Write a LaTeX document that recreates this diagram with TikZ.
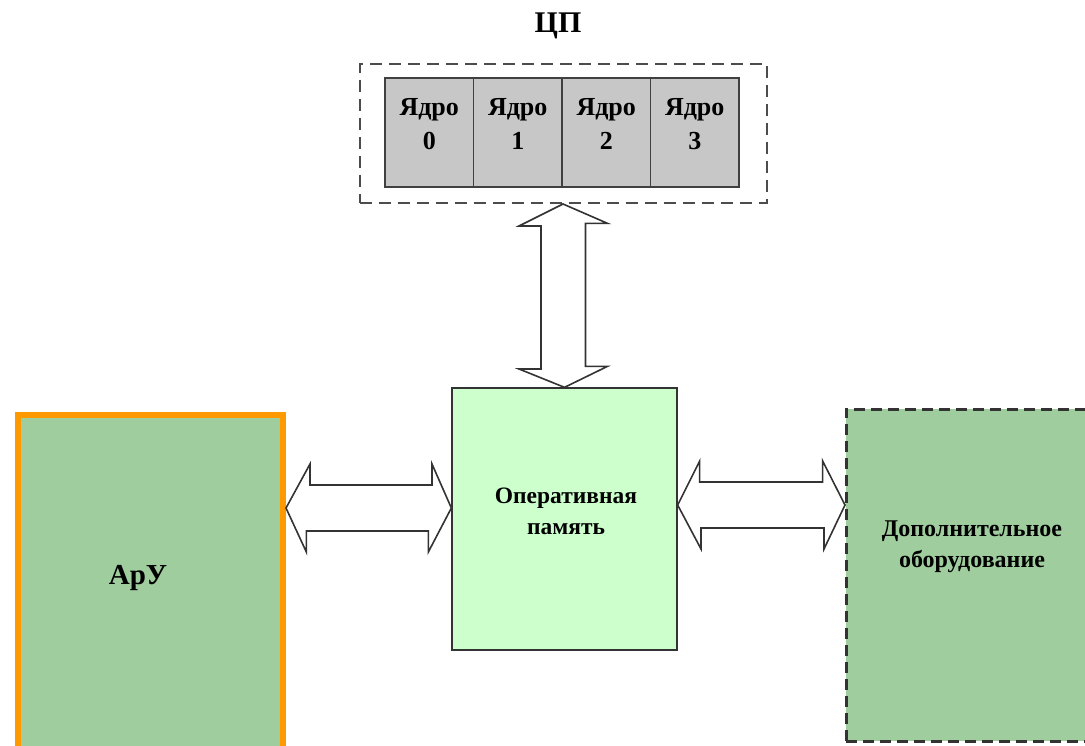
\documentclass[tikz,border=0pt]{standalone}
\usepackage{fontspec}
\setmainfont{Liberation Serif}
\begin{document}
\begin{tikzpicture}[x=1pt,y=-1pt,
  lbl/.style={font=\bfseries\fontsize{26}{34}\selectfont, align=center, text=black},
  core/.style={draw=black!75, line width=1.5pt, fill=black!22, minimum width=88.5pt, minimum height=109pt, inner sep=0pt},
  dbl/.style={draw=black!80, line width=1.6pt, fill=white, line join=miter}]
\useasboundingbox (0,0) rectangle (1085,746);
% title
\node[lbl, font=\bfseries\fontsize{30}{34}\selectfont] (title) at (558,26) {ЦП};
% CPU dashed frame
\node[draw=black!70, line width=2pt, dash pattern=on 12pt off 7pt, minimum width=407pt, minimum height=139pt, inner sep=0pt] (cpu) at (563,133.5) {};
% cores
\node[core] (c0) at (429.25,132.5) {};
\node[core] (c1) at (517.75,132.5) {};
\node[core] (c2) at (606.25,132.5) {};
\node[core] (c3) at (694.75,132.5) {};
\node[lbl] (t0) at (c0.center |- 0,124) {Ядро\\0};
\node[lbl] (t1) at (c1.center |- 0,124) {Ядро\\1};
\node[lbl] (t2) at (c2.center |- 0,124) {Ядро\\2};
\node[lbl] (t3) at (c3.center |- 0,124) {Ядро\\3};
% memory
\node[draw=black!80, line width=1.3pt, fill={rgb,255:red,204;green,255;blue,204}, minimum width=225pt, minimum height=262pt, inner sep=0pt] (mem) at (564.5,519) {};
\node[lbl, font=\bfseries\fontsize{23.5}{31}\selectfont] (memt) at (566,511) {Оперативная\\память};
% ARU
\node[draw={rgb,255:red,255;green,153;blue,0}, line width=6pt, fill={rgb,255:red,159;green,205;blue,157}, minimum width=265pt, minimum height=360pt, inner sep=0pt, anchor=north west] (aru) at (15,412) {};
\node[lbl, font=\bfseries\fontsize{29}{32}\selectfont] (arut) at (138,578) {АрУ};
% extra equipment
\node[draw=black!80, line width=2.5pt, dash pattern=on 11pt off 6pt, fill={rgb,255:red,159;green,205;blue,157}, minimum width=260pt, minimum height=332pt, inner sep=0pt, anchor=north west] (ext) at (845,408) {};
\node[lbl, font=\bfseries\fontsize{24}{31}\selectfont] (extt) at (972,547) {Дополнительное\\оборудование};
% arrows
\draw[dbl] (cpu.south) -- ++(-44,22) -- ++(22,0) -- ++(0,143) -- ++(-22,0) -- (mem.north) -- ++(43,-21) -- ++(-22,0) -- ++(0,-143) -- ++(22,0) -- cycle;
\draw[dbl] (aru.east |- 0,508) -- ++(24,-44) -- ++(0,21) -- ++(122,0) -- ++(0,-21) -- (mem.west |- 0,508) -- ++(-23,44) -- ++(0,-21) -- ++(-122,0) -- ++(0,21) -- cycle;
\draw[dbl] (mem.east |- 0,505) -- ++(22,-44) -- ++(0,21) -- ++(123,0) -- ++(0,-21) -- (ext.west |- 0,505) -- ++(-21,44) -- ++(0,-21) -- ++(-123,0) -- ++(0,21) -- cycle;
\end{tikzpicture}
\end{document}
